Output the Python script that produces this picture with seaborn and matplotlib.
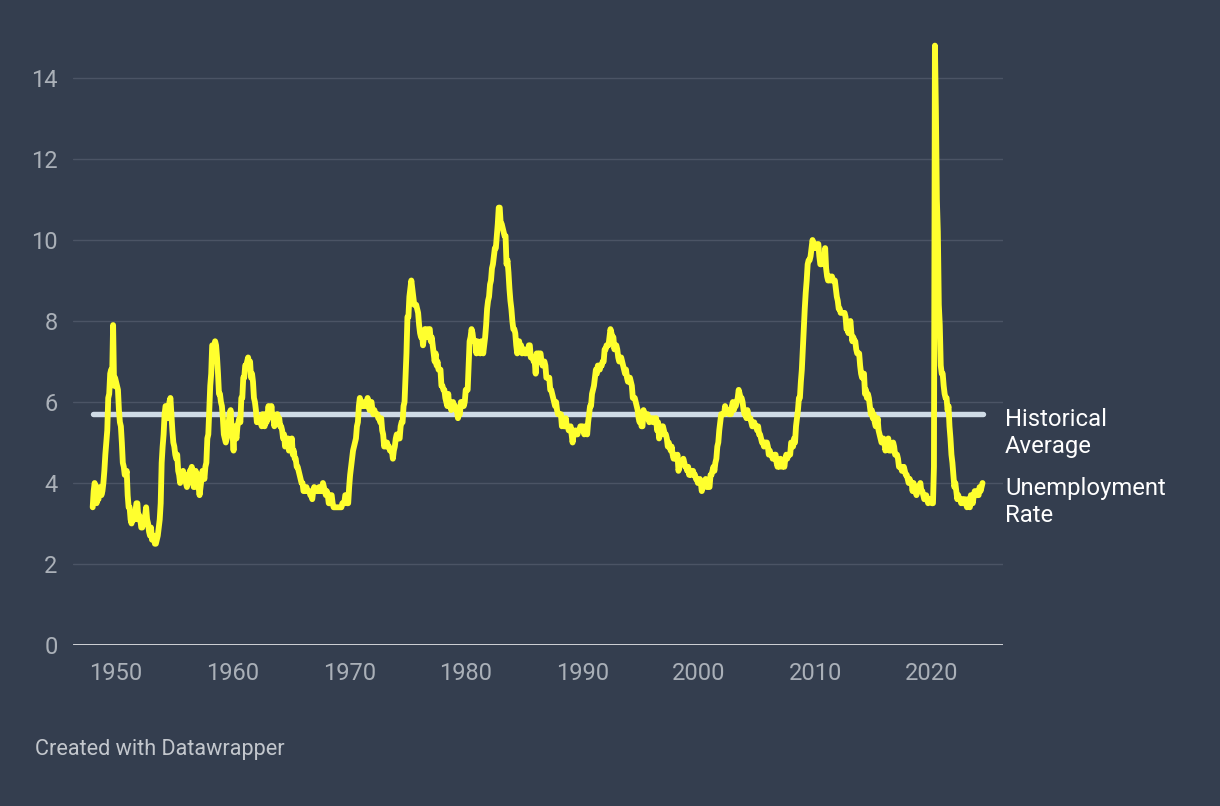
import numpy as np
import pandas as pd
import matplotlib
matplotlib.use("Agg")
import matplotlib.pyplot as plt
import seaborn as sns

# Monthly unemployment rate (%), Jan 1948 - May 2024
rate_1948_1949 = [
    3.4, 3.8, 4.0, 3.9, 3.5, 3.6, 3.6, 3.9, 3.8, 3.7, 3.8, 4.0,
    4.3, 4.7, 5.0, 5.3, 6.1, 6.2, 6.7, 6.8, 6.6, 7.9, 6.4, 6.6,
]
rate_1950s = [
    6.5, 6.4, 6.3, 5.8, 5.5, 5.4, 5.0, 4.5, 4.4, 4.2, 4.2, 4.3,
    3.7, 3.4, 3.4, 3.1, 3.0, 3.2, 3.1, 3.1, 3.3, 3.5, 3.5, 3.1,
    3.2, 3.1, 2.9, 2.9, 3.0, 3.0, 3.2, 3.4, 3.1, 3.0, 2.8, 2.7,
    2.9, 2.6, 2.6, 2.7, 2.5, 2.5, 2.6, 2.7, 2.9, 3.1, 3.5, 4.5,
    4.9, 5.2, 5.7, 5.9, 5.9, 5.6, 5.8, 6.0, 6.1, 5.7, 5.3, 5.0,
    4.9, 4.7, 4.6, 4.7, 4.3, 4.2, 4.0, 4.2, 4.1, 4.3, 4.2, 4.2,
    4.0, 3.9, 4.2, 4.0, 4.3, 4.3, 4.4, 4.1, 3.9, 3.9, 4.3, 4.2,
    4.2, 3.9, 3.7, 3.9, 4.1, 4.3, 4.2, 4.1, 4.4, 4.5, 5.1, 5.2,
    5.8, 6.4, 6.7, 7.4, 7.4, 7.3, 7.5, 7.4, 7.1, 6.7, 6.2, 6.2,
    6.0, 5.9, 5.6, 5.2, 5.1, 5.0, 5.1, 5.2, 5.5, 5.7, 5.8, 5.3,
]
rate_1960s = [
    5.2, 4.8, 5.4, 5.2, 5.1, 5.4, 5.5, 5.6, 5.5, 6.1, 6.1, 6.6,
    6.6, 6.9, 6.9, 7.0, 7.1, 6.9, 7.0, 6.6, 6.7, 6.5, 6.1, 6.0,
    5.8, 5.5, 5.6, 5.6, 5.5, 5.5, 5.4, 5.7, 5.6, 5.4, 5.7, 5.5,
    5.7, 5.9, 5.7, 5.7, 5.9, 5.6, 5.6, 5.4, 5.5, 5.5, 5.7, 5.5,
    5.6, 5.4, 5.4, 5.3, 5.1, 5.2, 4.9, 5.0, 5.1, 5.1, 4.8, 5.0,
    4.9, 5.1, 4.7, 4.8, 4.6, 4.6, 4.4, 4.4, 4.3, 4.2, 4.1, 4.0,
    4.0, 3.8, 3.8, 3.8, 3.9, 3.8, 3.8, 3.8, 3.7, 3.7, 3.6, 3.8,
    3.9, 3.8, 3.8, 3.8, 3.8, 3.9, 3.8, 3.8, 3.8, 4.0, 3.9, 3.8,
    3.7, 3.8, 3.7, 3.5, 3.5, 3.7, 3.7, 3.5, 3.4, 3.4, 3.4, 3.4,
    3.4, 3.4, 3.4, 3.4, 3.4, 3.5, 3.5, 3.5, 3.7, 3.7, 3.5, 3.5,
]
rate_1970s = [
    3.9, 4.2, 4.4, 4.6, 4.8, 4.9, 5.0, 5.1, 5.4, 5.5, 5.9, 6.1,
    5.9, 5.9, 6.0, 5.9, 5.9, 5.9, 6.0, 6.1, 6.0, 5.8, 6.0, 6.0,
    5.8, 5.7, 5.8, 5.7, 5.7, 5.7, 5.6, 5.6, 5.5, 5.6, 5.3, 5.2,
    4.9, 5.0, 4.9, 5.0, 4.9, 4.9, 4.8, 4.8, 4.8, 4.6, 4.8, 4.9,
    5.1, 5.2, 5.1, 5.1, 5.1, 5.4, 5.5, 5.5, 5.9, 6.0, 6.6, 7.2,
    8.1, 8.1, 8.6, 8.8, 9.0, 8.8, 8.6, 8.4, 8.4, 8.4, 8.3, 8.2,
    7.9, 7.7, 7.6, 7.7, 7.4, 7.6, 7.8, 7.8, 7.6, 7.7, 7.8, 7.8,
    7.5, 7.6, 7.4, 7.2, 7.0, 7.2, 6.9, 7.0, 6.8, 6.8, 6.8, 6.4,
    6.4, 6.3, 6.3, 6.1, 6.0, 5.9, 6.2, 5.9, 6.0, 5.8, 5.9, 6.0,
    5.9, 5.9, 5.8, 5.8, 5.6, 5.7, 5.7, 6.0, 5.9, 6.0, 5.9, 6.0,
]
rate_1980s = [
    6.3, 6.3, 6.3, 6.9, 7.5, 7.6, 7.8, 7.7, 7.5, 7.5, 7.5, 7.2,
    7.5, 7.4, 7.4, 7.2, 7.5, 7.5, 7.2, 7.4, 7.6, 7.9, 8.3, 8.5,
    8.6, 8.9, 9.0, 9.3, 9.4, 9.6, 9.8, 9.8, 10.1, 10.4, 10.8, 10.8,
    10.4, 10.4, 10.3, 10.2, 10.1, 10.1, 9.4, 9.5, 9.2, 8.8, 8.5, 8.3,
    8.0, 7.8, 7.8, 7.7, 7.4, 7.2, 7.5, 7.5, 7.3, 7.4, 7.2, 7.3,
    7.3, 7.2, 7.2, 7.3, 7.2, 7.4, 7.4, 7.1, 7.1, 7.1, 7.0, 7.0,
    6.7, 7.2, 7.2, 7.1, 7.2, 7.2, 7.0, 6.9, 7.0, 7.0, 6.9, 6.6,
    6.6, 6.6, 6.6, 6.3, 6.3, 6.2, 6.1, 6.0, 5.9, 6.0, 5.8, 5.7,
    5.7, 5.7, 5.7, 5.4, 5.6, 5.4, 5.4, 5.6, 5.4, 5.4, 5.3, 5.3,
    5.4, 5.2, 5.0, 5.2, 5.2, 5.3, 5.2, 5.2, 5.3, 5.3, 5.4, 5.4,
]
rate_1990s = [
    5.4, 5.3, 5.2, 5.4, 5.4, 5.2, 5.5, 5.7, 5.9, 5.9, 6.2, 6.3,
    6.4, 6.6, 6.8, 6.7, 6.9, 6.9, 6.8, 6.9, 6.9, 7.0, 7.0, 7.3,
    7.3, 7.4, 7.4, 7.4, 7.6, 7.8, 7.7, 7.6, 7.6, 7.3, 7.4, 7.4,
    7.3, 7.1, 7.0, 7.1, 7.1, 7.0, 6.9, 6.8, 6.7, 6.8, 6.6, 6.5,
    6.6, 6.6, 6.5, 6.4, 6.1, 6.1, 6.1, 6.0, 5.9, 5.8, 5.6, 5.5,
    5.6, 5.4, 5.4, 5.8, 5.6, 5.6, 5.7, 5.7, 5.6, 5.5, 5.6, 5.6,
    5.6, 5.5, 5.5, 5.6, 5.6, 5.3, 5.5, 5.1, 5.2, 5.2, 5.4, 5.4,
    5.3, 5.2, 5.2, 5.1, 4.9, 5.0, 4.9, 4.8, 4.9, 4.7, 4.6, 4.7,
    4.6, 4.6, 4.7, 4.3, 4.4, 4.5, 4.5, 4.5, 4.6, 4.5, 4.4, 4.4,
    4.3, 4.4, 4.2, 4.3, 4.2, 4.3, 4.3, 4.2, 4.2, 4.1, 4.1, 4.0,
]
rate_2000s = [
    4.0, 4.1, 4.0, 3.8, 4.0, 4.0, 4.0, 4.1, 3.9, 3.9, 3.9, 3.9,
    4.2, 4.2, 4.3, 4.4, 4.3, 4.5, 4.6, 4.9, 5.0, 5.3, 5.5, 5.7,
    5.7, 5.7, 5.7, 5.9, 5.8, 5.8, 5.8, 5.7, 5.7, 5.7, 5.9, 6.0,
    5.8, 5.9, 5.9, 6.0, 6.1, 6.3, 6.2, 6.1, 6.1, 6.0, 5.8, 5.7,
    5.7, 5.6, 5.8, 5.6, 5.6, 5.6, 5.5, 5.4, 5.4, 5.5, 5.4, 5.4,
    5.3, 5.4, 5.2, 5.2, 5.1, 5.0, 5.0, 4.9, 5.0, 5.0, 5.0, 4.9,
    4.7, 4.8, 4.7, 4.7, 4.6, 4.6, 4.7, 4.7, 4.5, 4.4, 4.5, 4.4,
    4.6, 4.5, 4.4, 4.5, 4.4, 4.6, 4.7, 4.6, 4.7, 4.7, 4.7, 5.0,
    5.0, 4.9, 5.1, 5.0, 5.4, 5.6, 5.8, 6.1, 6.1, 6.5, 6.8, 7.3,
    7.8, 8.3, 8.7, 9.0, 9.4, 9.5, 9.5, 9.6, 9.8, 10.0, 9.9, 9.9,
]
rate_2010s = [
    9.8, 9.8, 9.9, 9.9, 9.6, 9.4, 9.4, 9.5, 9.5, 9.4, 9.8, 9.3,
    9.1, 9.0, 9.0, 9.1, 9.0, 9.1, 9.0, 9.0, 9.0, 8.8, 8.6, 8.5,
    8.3, 8.3, 8.2, 8.2, 8.2, 8.2, 8.2, 8.1, 7.8, 7.8, 7.7, 7.9,
    8.0, 7.7, 7.5, 7.6, 7.5, 7.5, 7.3, 7.2, 7.2, 7.2, 6.9, 6.7,
    6.6, 6.7, 6.7, 6.2, 6.3, 6.1, 6.2, 6.1, 5.9, 5.7, 5.8, 5.6,
    5.7, 5.5, 5.4, 5.4, 5.6, 5.3, 5.2, 5.1, 5.0, 5.0, 5.1, 5.0,
    4.8, 4.9, 5.0, 5.1, 4.8, 4.9, 4.8, 4.9, 5.0, 4.9, 4.7, 4.7,
    4.7, 4.6, 4.4, 4.4, 4.4, 4.3, 4.3, 4.4, 4.3, 4.2, 4.2, 4.1,
    4.0, 4.1, 4.0, 4.0, 3.8, 4.0, 3.8, 3.8, 3.7, 3.8, 3.8, 3.9,
    4.0, 3.8, 3.8, 3.7, 3.6, 3.6, 3.7, 3.6, 3.5, 3.6, 3.6, 3.6,
]
rate_2020s = [
    3.5, 3.5, 4.4, 14.8, 13.2, 11.0, 10.2, 8.4, 7.9, 6.9, 6.7, 6.7,
    6.4, 6.2, 6.1, 6.1, 5.8, 5.9, 5.4, 5.1, 4.7, 4.5, 4.2, 3.9,
    4.0, 3.8, 3.6, 3.7, 3.6, 3.6, 3.5, 3.6, 3.5, 3.6, 3.6, 3.5,
    3.4, 3.6, 3.5, 3.4, 3.7, 3.6, 3.5, 3.7, 3.8, 3.8, 3.7, 3.7,
    3.7, 3.9, 3.8, 3.9, 4.0,
]
historical_average = 5.7
start_month = "1948-01"
x_ticks = [1950, 1960, 1970, 1980, 1990, 2000, 2010, 2020]
y_ticks = [0, 2, 4, 6, 8, 10, 12, 14]
label_avg = ["Historical", "Average"]
label_rate = ["Unemployment", "Rate"]
footer = "Created with Datawrapper"

rates = (rate_1948_1949 + rate_1950s + rate_1960s + rate_1970s + rate_1980s
         + rate_1990s + rate_2000s + rate_2010s + rate_2020s)
dates = pd.date_range(start_month, periods=len(rates), freq="MS")
df = pd.DataFrame({
    "year": dates.year + (dates.month - 1) / 12.0,
    "rate": rates,
})

BG = "#343e4f"
GRID = "#4b5465"
YELLOW = "#ffff2e"
AVG = "#cfdbe6"
TICK = "#aab0b8"

sns.set_theme(style="dark")
plt.rcParams["font.family"] = ["Roboto", "DejaVu Sans"]

W, H = 1220, 806
fig = plt.figure(figsize=(W / 100, H / 100), dpi=100, facecolor=BG)
ax = fig.add_axes([73 / W, 1 - 645 / H, 930 / W, 607.5 / H])
ax.set_facecolor(BG)

ax.set_xlim(1946.31, 2026.09)
ax.set_ylim(0, 15)

for t in y_ticks[1:]:
    ax.axhline(t, color=GRID, lw=1.0, zorder=1)

x0 = df["year"].iloc[0]
x1 = df["year"].iloc[-1]
ax.plot([x0, x1], [historical_average, historical_average], color=AVG, lw=3.9,
        solid_capstyle="round", zorder=3)

sns.lineplot(data=df, x="year", y="rate", ax=ax, color=YELLOW, lw=4.2,
             zorder=4, clip_on=False)
ax.lines[-1].set_solid_joinstyle("round")
ax.lines[-1].set_solid_capstyle("round")

ax.axhline(0, color="white", lw=1.8, zorder=5)

for s in ax.spines.values():
    s.set_visible(False)
ax.grid(False)
ax.set_xticks(x_ticks)
ax.set_yticks(y_ticks)
ax.set_xticklabels([str(t) for t in x_ticks])
ax.set_yticklabels([str(t) for t in y_ticks])
ax.tick_params(axis="x", length=0, pad=12, labelsize=17, labelcolor=TICK)
ax.tick_params(axis="y", length=0, pad=11, labelsize=17, labelcolor=TICK)
ax.set_xlabel("")
ax.set_ylabel("")

fs_lab = 17.2
fig.text(1005 / W, 1 - 426 / H, label_avg[0], color="white", fontsize=fs_lab, va="baseline", ha="left")
fig.text(1005 / W, 1 - 453 / H, label_avg[1], color="white", fontsize=fs_lab, va="baseline", ha="left")
fig.text(1005 / W, 1 - 495 / H, label_rate[0], color="white", fontsize=fs_lab, va="baseline", ha="left")
fig.text(1005 / W, 1 - 522 / H, label_rate[1], color="white", fontsize=fs_lab, va="baseline", ha="left")

fig.text(35 / W, 1 - 755 / H, footer, color="#c3c7cd", fontsize=15.6, va="baseline", ha="left")

fig.savefig("out.png", dpi=100, facecolor=BG)
